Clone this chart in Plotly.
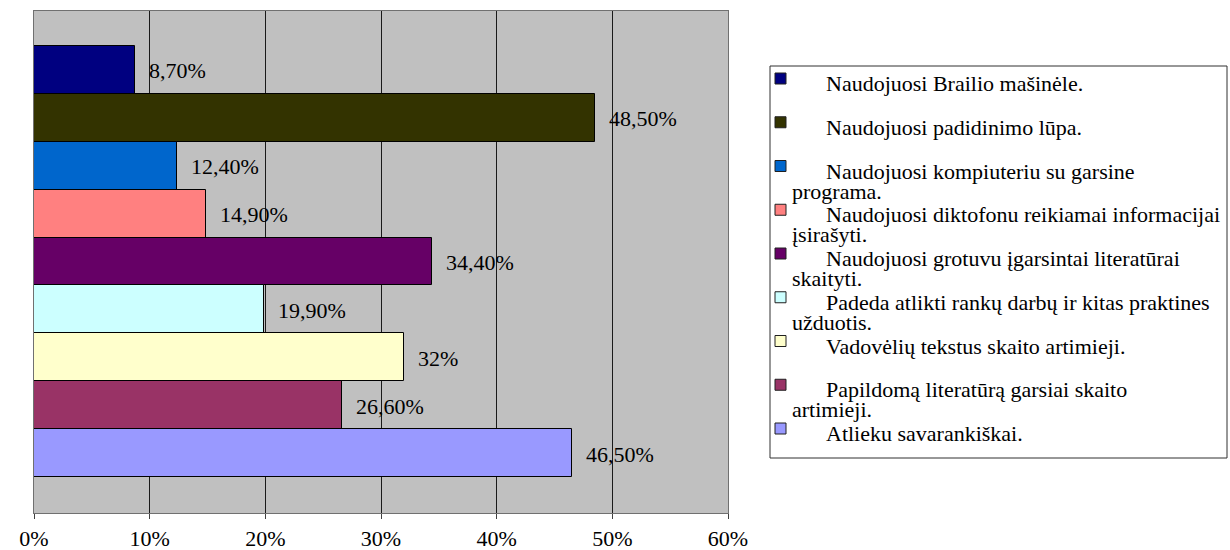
import plotly.graph_objects as go

# Data (top bar first)
labels = [
    "Naudojuosi Brailio mašinėle.",
    "Naudojuosi padidinimo lūpa.",
    "Naudojuosi kompiuteriu su garsine\nprograma.",
    "Naudojuosi diktofonu reikiamai informacijai\nįsirašyti.",
    "Naudojuosi grotuvu įgarsintai literatūrai\nskaityti.",
    "Padeda atlikti rankų darbų ir kitas praktines\nužduotis.",
    "Vadovėlių tekstus skaito artimieji.",
    "Papildomą literatūrą garsiai skaito\nartimieji.",
    "Atlieku savarankiškai.",
]
values = [8.7, 48.5, 12.4, 14.9, 34.4, 19.9, 32.0, 26.6, 46.5]
colors = ["#000080", "#333300", "#0066CC", "#FF8080", "#660066",
          "#CCFFFF", "#FFFFCC", "#993366", "#9999FF"]
tick_vals = [0, 10, 20, 30, 40, 50, 60]
tick_text = ["0%", "10%", "20%", "30%", "40%", "50%", "60%"]

FONT = "Liberation Serif"
W, H = 1230, 550
L, R, T, B = 34, 502, 11, 37


def px(x):
    return (x - L) / (W - L - R)


def py(y):
    return (H - B - y) / (H - T - B)


def fmt(v):
    if float(v).is_integer():
        return f"{v:.0f}%"
    return f"{v:.2f}%".replace(".", ",")


cats = [lab.replace("\n", " ") for lab in labels]

fig = go.Figure(
    go.Bar(
        x=values,
        y=cats,
        orientation="h",
        marker=dict(color=colors, line=dict(color="#000000", width=1)),
        showlegend=False,
        hoverinfo="skip",
    )
)

# value labels next to the bars
for c, v in zip(cats, values):
    fig.add_annotation(
        x=v, y=c, text=fmt(v), showarrow=False,
        xanchor="left", yanchor="middle", xshift=12, yshift=-1,
        font=dict(family=FONT, size=22, color="#000000"),
    )

# hand-made legend box (Excel style, wrapped labels)
fig.add_shape(
    type="rect", xref="paper", yref="paper",
    x0=px(770), x1=px(1227), y0=py(458), y1=py(66),
    line=dict(color="#303030", width=1), fillcolor="white", layer="below",
)
for i, (lab, col) in enumerate(zip(labels, colors)):
    cy = 78.5 + 43.75 * i
    fig.add_shape(
        type="rect", xref="paper", yref="paper",
        x0=px(775), x1=px(786), y0=py(cy + 5.5), y1=py(cy - 5.5),
        line=dict(color="#202020", width=1), fillcolor=col,
    )
    lines = lab.split("\n")
    for j, line in enumerate(lines):
        fig.add_annotation(
            xref="paper", yref="paper",
            x=px(824 if j == 0 else 790), y=py(cy + 5 + 20 * j),
            text=line, showarrow=False, xanchor="left", yanchor="middle",
            font=dict(family=FONT, size=22, color="#000000"),
        )

fig.update_xaxes(
    range=[0, 60], tickvals=tick_vals, ticktext=tick_text,
    showgrid=True, gridcolor="#1a1a1a", gridwidth=1, zeroline=False,
    showline=True, linecolor="#707070", linewidth=1, mirror=True,
    ticks="outside", ticklen=5, tickcolor="#404040",
    tickfont=dict(family=FONT, size=22, color="#000000"),
    ticklabelstandoff=1, automargin=False,
)
fig.update_yaxes(
    range=[8.5 + 36 / 48, -0.5 - 35 / 48],
    showticklabels=False, ticks="", showgrid=False,
    showline=True, linecolor="#707070", linewidth=1, mirror=True,
    automargin=False,
)

fig.update_layout(
    width=W, height=H,
    margin=dict(l=L, r=R, t=T, b=B),
    bargap=0,
    plot_bgcolor="#C0C0C0",
    paper_bgcolor="white",
    font=dict(family=FONT, size=22, color="#000000"),
)

fig.write_html(
    "out.html",
    config={"displayModeBar": False},
    post_script="document.body.style.margin='0';",
)
